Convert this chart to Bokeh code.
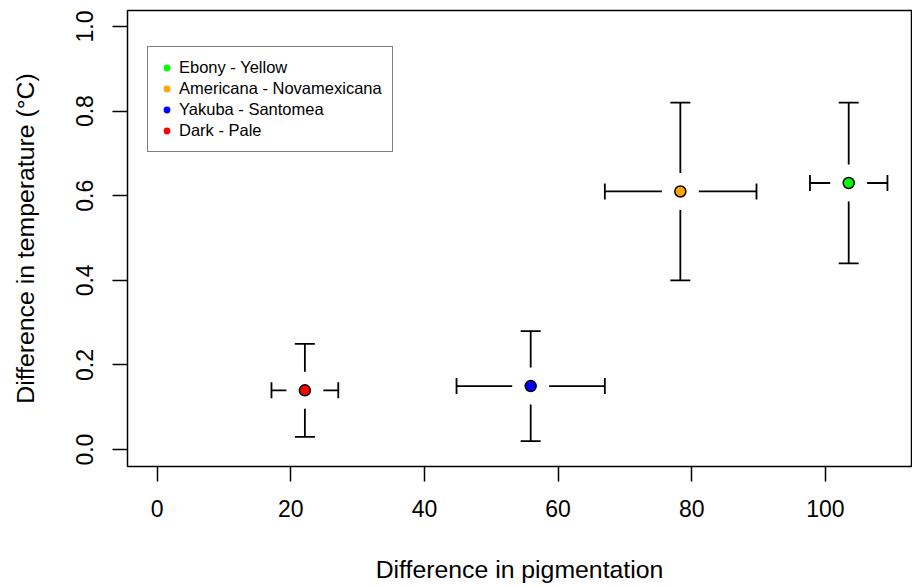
import numpy as np
from bokeh.plotting import figure
from bokeh.models import Range1d, FixedTicker, Legend, LegendItem, NumeralTickFormatter
from bokeh.embed import file_html
from bokeh.resources import INLINE

groups = ["Ebony - Yellow", "Americana - Novamexicana", "Yakuba - Santomea", "Dark - Pale"]
colors = ["#00FF00", "#FFA500", "#0000FF", "#FF0000"]
pigment = [103.5, 78.3, 55.9, 22.1]
pig_lo = [97.7, 67.0, 44.8, 17.1]
pig_hi = [109.3, 89.7, 67.0, 27.1]
temp = [0.63, 0.61, 0.15, 0.14]
temp_lo = [0.44, 0.40, 0.02, 0.03]
temp_hi = [0.82, 0.82, 0.28, 0.25]
x_ticks = [0, 20, 40, 60, 80, 100]
y_ticks = [0.0, 0.2, 0.4, 0.6, 0.8, 1.0]

FONT = "Liberation Sans"

p = figure(width=912, height=585, output_backend="svg", toolbar_location=None,
           x_range=Range1d(-4.45, 112.9), y_range=Range1d(-0.04, 1.0377),
           min_border_left=127, min_border_right=1, min_border_top=10, min_border_bottom=118,
           x_axis_label="Difference in pigmentation",
           y_axis_label="Difference in temperature (\u00b0C)")
p.grid.visible = False
p.outline_line_color = "black"
p.outline_line_width = 1.5
p.background_fill_color = "white"
p.border_fill_color = "white"

for ax in (p.xaxis[0], p.yaxis[0]):
    ax.axis_line_color = None
    ax.major_tick_out = 15
    ax.major_tick_in = 0
    ax.major_tick_line_color = "black"
    ax.major_tick_line_width = 1.5
    ax.minor_tick_line_color = None
    ax.major_label_text_font = FONT
    ax.major_label_text_font_size = "23px"
    ax.major_label_text_color = "black"
    ax.axis_label_text_font = FONT
    ax.axis_label_text_font_size = "24.8px"
    ax.axis_label_text_font_style = "normal"
    ax.axis_label_text_color = "black"

p.xaxis.ticker = FixedTicker(ticks=x_ticks)
p.yaxis.ticker = FixedTicker(ticks=y_ticks)
p.yaxis.formatter = NumeralTickFormatter(format="0.0")
p.yaxis.major_label_orientation = "vertical"
p.xaxis.major_label_standoff = 18
p.yaxis.major_label_standoff = 19
p.xaxis.axis_label_standoff = 36
p.yaxis.axis_label_standoff = 35

LW = 1.8
# error bars
p.segment(x0=pig_lo, y0=temp, x1=pig_hi, y1=temp, line_color="black", line_width=LW)
p.segment(x0=pigment, y0=temp_lo, x1=pigment, y1=temp_hi, line_color="black", line_width=LW)
p.scatter(x=pigment, y=temp_hi, marker="dash", size=20, line_color="black", line_width=LW)
p.scatter(x=pigment, y=temp_lo, marker="dash", size=20, line_color="black", line_width=LW)
p.scatter(x=pig_lo, y=temp, marker="dash", angle=np.pi / 2, size=16, line_color="black", line_width=LW)
p.scatter(x=pig_hi, y=temp, marker="dash", angle=np.pi / 2, size=16, line_color="black", line_width=LW)

# legend proxies (hidden beneath the points)
items = []
for i in range(len(groups)):
    r = p.scatter(x=[pigment[i]], y=[temp[i]], size=4, fill_color=colors[i], line_color=None)
    items.append(LegendItem(label=groups[i], renderers=[r]))

# gap around points
p.scatter(x=pigment, y=temp, size=37, fill_color="white", line_color=None)
# points
p.scatter(x=pigment, y=temp, size=11, fill_color=colors, line_color="black", line_width=1.5)

legend = Legend(items=items, location=(20, 314), margin=0, padding=10,
                glyph_width=17, glyph_height=17, label_height=21, spacing=0,
                label_standoff=4, label_text_font=FONT, label_text_font_size="16.5px",
                label_text_color="black",
                border_line_color="black", border_line_width=1.5,
                background_fill_color="white", background_fill_alpha=1.0)
p.add_layout(legend, "center")

open("out.html", "w").write(file_html(p, INLINE))
